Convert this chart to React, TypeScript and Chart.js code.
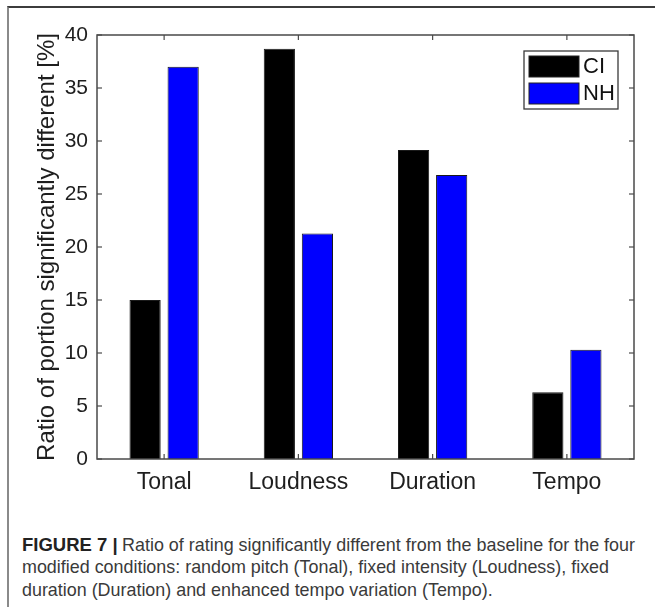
import React, { useEffect, useLayoutEffect, useRef } from "react";
import { Chart, registerables } from "chart.js";

Chart.register(...registerables);

const categories = ["Tonal", "Loudness", "Duration", "Tempo"];
const seriesNames = ["CI", "NH"];
const ciValues = [15.0, 38.7, 29.15, 6.3];
const nhValues = [37.0, 21.28, 26.8, 10.3];
const seriesColors = ["#000000", "#0000ff"];
const yTitle = "Ratio of portion significantly different [%]";
const yMin = 0;
const yMax = 40;
const yStep = 5;

const captionBold = "FIGURE 7 |";
const captionLine1 = "Ratio of rating significantly different from the baseline for the four";
const captionLine2 = "modified conditions: random pitch (Tonal), fixed intensity (Loudness), fixed";
const captionLine3 = "duration (Duration) and enhanced tempo variation (Tempo).";

const FONT = "'Liberation Sans', Arial, Helvetica, sans-serif";

const framePlugin = {
  id: "matlabFrame",
  afterDatasetsDraw(chart: any) {
    const { ctx, chartArea: a, scales } = chart;
    ctx.save();
    ctx.strokeStyle = "#4a4a4a";
    ctx.lineWidth = 1.5;
    ctx.strokeRect(a.left, a.top, a.right - a.left, a.bottom - a.top);
    const seg = (x1: number, y1: number, x2: number, y2: number) => {
      ctx.beginPath();
      ctx.moveTo(x1, y1);
      ctx.lineTo(x2, y2);
      ctx.stroke();
    };
    ctx.lineWidth = 1.2;
    const ys = scales.y;
    ys.ticks.forEach((t: any) => {
      const py = ys.getPixelForValue(t.value);
      seg(a.left, py, a.left + 5, py);
      seg(a.right, py, a.right - 5, py);
    });
    const xs = scales.x;
    xs.ticks.forEach((_t: any, i: number) => {
      const px = xs.getPixelForTick(i);
      seg(px, a.bottom, px, a.bottom - 5);
      seg(px, a.top, px, a.top + 5);
    });

    // legend box (inside plot, top-right)
    const ds = chart.data.datasets;
    const boxW = 94;
    const boxH = 58;
    const bx = a.right - 16 - boxW;
    const by = a.top + 16;
    ctx.fillStyle = "#ffffff";
    ctx.fillRect(bx, by, boxW, boxH);
    ctx.strokeStyle = "#3a3a3a";
    ctx.lineWidth = 1.3;
    ctx.strokeRect(bx, by, boxW, boxH);
    ctx.font = `22px ${FONT}`;
    ctx.textBaseline = "middle";
    ctx.textAlign = "left";
    ds.forEach((d: any, i: number) => {
      const sy = by + 5 + i * 27;
      ctx.fillStyle = d.backgroundColor;
      ctx.fillRect(bx + 5, sy, 50, 21);
      ctx.strokeStyle = "#222";
      ctx.lineWidth = 1;
      ctx.strokeRect(bx + 5, sy, 50, 21);
      ctx.fillStyle = "#111";
      ctx.fillText(d.label, bx + 59, sy + 11);
    });
    ctx.restore();
  },
};

export default function App() {
  const canvasRef = useRef<HTMLCanvasElement | null>(null);
  const l1Ref = useRef<HTMLSpanElement | null>(null);
  const l2Ref = useRef<HTMLSpanElement | null>(null);
  const l3Ref = useRef<HTMLSpanElement | null>(null);

  useLayoutEffect(() => {
    const fit = (el: HTMLSpanElement | null, target: number) => {
      if (!el) return 1;
      el.style.transform = "none";
      const w = el.getBoundingClientRect().width;
      const s = w > 0 ? target / w : 1;
      el.style.transform = `scaleX(${s})`;
      return s;
    };
    fit(l1Ref.current, 513);
    const s2 = fit(l2Ref.current, 587);
    if (l3Ref.current) l3Ref.current.style.transform = `scaleX(${s2})`;
  }, []);

  useEffect(() => {
    if (!canvasRef.current) return;
    const chart = new Chart(canvasRef.current, {
      type: "bar",
      data: {
        labels: categories,
        datasets: [
          {
            label: seriesNames[0],
            data: ciValues,
            backgroundColor: seriesColors[0],
            borderColor: "#1a1a1a",
            borderWidth: 1,
            categoryPercentage: 0.567,
            barPercentage: 0.82,
          },
          {
            label: seriesNames[1],
            data: nhValues,
            backgroundColor: seriesColors[1],
            borderColor: "#1a1a1a",
            borderWidth: 1,
            categoryPercentage: 0.567,
            barPercentage: 0.82,
          },
        ],
      },
      options: {
        responsive: false,
        animation: false,
        layout: { padding: { top: 35, right: 21, bottom: 16, left: 0 } },
        plugins: {
          legend: { display: false },
          tooltip: { enabled: false },
        },
        scales: {
          x: {
            grid: { display: false, drawTicks: false },
            border: { display: false },
            ticks: {
              color: "#1e1e1e",
              font: { family: FONT, size: 23 },
              padding: 10,
              maxRotation: 0,
            },
            afterFit: (s: any) => {
              s.height = 40;
            },
          },
          y: {
            min: yMin,
            max: yMax,
            grid: { display: false, drawTicks: false },
            border: { display: false },
            ticks: {
              stepSize: yStep,
              color: "#1e1e1e",
              font: { family: FONT, size: 21 },
              padding: 9,
            },
            title: {
              display: true,
              text: yTitle,
              color: "#1e1e1e",
              font: { family: FONT, size: 24 },
              padding: { top: 33, bottom: 0 },
            },
            afterFit: (s: any) => {
              s.width = 97;
            },
          },
        },
      },
      plugins: [framePlugin],
    });
    return () => chart.destroy();
  }, []);

  const lineStyle: React.CSSProperties = {
    position: "absolute",
    left: 22,
    whiteSpace: "nowrap",
    fontFamily: FONT,
    fontSize: 19,
    lineHeight: "22px",
    color: "#3a3a3a",
  };

  return (
    <div
      style={{
        position: "absolute",
        left: 0,
        top: 0,
        width: 655,
        height: 612,
        background: "#ffffff",
        overflow: "hidden",
      }}
    >
      <div
        style={{
          position: "absolute",
          left: 7,
          top: 6,
          width: 670,
          height: 601,
          borderTop: "2px solid #3c3c3c",
          borderLeft: "2px solid #8a8a8a",
          boxSizing: "border-box",
        }}
      />
      <canvas
        ref={canvasRef}
        width={655}
        height={515}
        style={{ position: "absolute", left: 0, top: 0, width: 655, height: 515 }}
      />
      <div style={{ ...lineStyle, top: 533.5 }}>
        <span style={{ fontWeight: "bold", color: "#222222", fontSize: 18.5 }}>{captionBold}</span>
      </div>
      <div style={{ ...lineStyle, left: 122, top: 533.5 }}>
        <span ref={l1Ref} style={{ display: "inline-block", transformOrigin: "left center" }}>
          {captionLine1}
        </span>
      </div>
      <div style={{ ...lineStyle, top: 556 }}>
        <span ref={l2Ref} style={{ display: "inline-block", transformOrigin: "left center" }}>
          {captionLine2}
        </span>
      </div>
      <div style={{ ...lineStyle, top: 578.5 }}>
        <span ref={l3Ref} style={{ display: "inline-block", transformOrigin: "left center" }}>
          {captionLine3}
        </span>
      </div>
    </div>
  );
}
